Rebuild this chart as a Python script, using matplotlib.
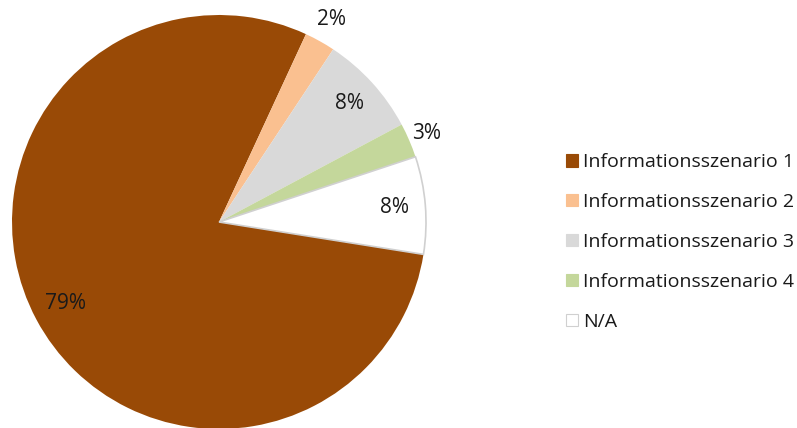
import matplotlib.pyplot as plt
from matplotlib.patches import Patch
import numpy as np

plt.rcParams['font.family'] = ['Open Sans', 'DejaVu Sans']

labels = ['Informationsszenario 1', 'Informationsszenario 2', 'Informationsszenario 3',
          'Informationsszenario 4', 'N/A']
values = [79.4, 2.4, 7.9, 2.7, 7.6]
colors = ['#994A06', '#FAC090', '#D9D9D9', '#C4D79B', '#FFFFFF']
# label distance from centre (fraction of radius), small slices outside
label_dist = [0.84, 1.12, 0.85, 1.09, 0.85]

fig = plt.figure(figsize=(7.97, 4.28), dpi=100)
W, H = 797, 428
cx, cy, r = 219, 222, 207
ax = fig.add_axes([(cx - r) / W, (H - cy - r) / H, 2 * r / W, 2 * r / H])

wedges, texts, autotexts = ax.pie(values, colors=colors, startangle=-9, counterclock=False,
                                  autopct='%.0f%%', radius=1,
                                  textprops={'fontsize': 15, 'color': '#1a1a1a'},
                                  wedgeprops={'linewidth': 0})
# white slice gets a light grey outline
wedges[4].set_edgecolor('#D0D0D0')
wedges[4].set_linewidth(1.2)

for w, t, d in zip(wedges, autotexts, label_dist):
    ang = np.deg2rad((w.theta1 + w.theta2) / 2)
    t.set_position((d * np.cos(ang), d * np.sin(ang)))

ax.set_xlim(-1, 1)
ax.set_ylim(-1, 1)
ax.set_aspect('equal')
ax.axis('off')

handles = [Patch(facecolor=c, edgecolor=('#D0D0D0' if c == '#FFFFFF' else c), linewidth=0.8)
           for c in colors]
fig.legend(handles, labels, loc='center left', bbox_to_anchor=(566 / W, 1 - 242 / H),
           frameon=False, fontsize=14, handlelength=0.62, handleheight=0.62,
           handletextpad=0.25, labelspacing=1.13, borderaxespad=0, borderpad=0,
           labelcolor='#1a1a1a')

fig.savefig('out.png', dpi=100)
